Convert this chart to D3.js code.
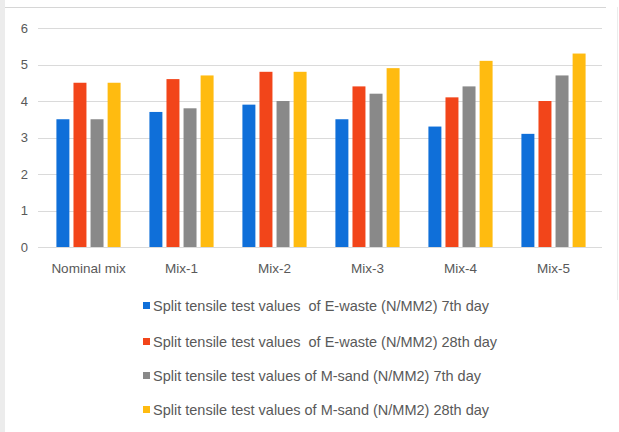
<!DOCTYPE html>
<html>
<head>
<meta charset="utf-8">
<script src="https://cdn.jsdelivr.net/npm/d3@7/dist/d3.min.js"></script>
<style>
  html, body { margin: 0; padding: 0; background: #fff; }
  svg { display: block; }
  text { font-family: "Liberation Sans", Arial, sans-serif; fill: #595959; }
</style>
</head>
<body>
<script>
// Split tensile strength (N/mm2) per mix
const categories = ["Nominal mix", "Mix-1", "Mix-2", "Mix-3", "Mix-4", "Mix-5"];
const seriesNames = [
  "Split tensile test values  of E-waste (N/MM2) 7th day",
  "Split tensile test values  of E-waste (N/MM2) 28th day",
  "Split tensile test values of M-sand (N/MM2) 7th day",
  "Split tensile test values of M-sand (N/MM2) 28th day"
];
const ewaste7  = [3.5, 3.7, 3.9, 3.5, 3.3, 3.1];
const ewaste28 = [4.5, 4.6, 4.8, 4.4, 4.1, 4.0];
const msand7   = [3.5, 3.8, 4.0, 4.2, 4.4, 4.7];
const msand28  = [4.5, 4.7, 4.8, 4.9, 5.1, 5.3];
const yTicks = [0, 1, 2, 3, 4, 5, 6];
const colors = ["#0f6fd9", "#f2451a", "#898989", "#ffbb10"];

const seriesValues = [ewaste7, ewaste28, msand7, msand28];

const W = 619, H = 432;
const svg = d3.select("body").append("svg").attr("width", W).attr("height", H);

// outer frame of the chart area
svg.append("rect").attr("x", 0).attr("y", 0).attr("width", 5).attr("height", H).attr("fill", "#ececec");
svg.append("line").attr("x1", 5).attr("x2", 606).attr("y1", 7.5).attr("y2", 7.5)
  .attr("stroke", "#d6d6d6").attr("stroke-width", 1);
svg.append("line").attr("x1", 617.5).attr("x2", 617.5).attr("y1", 7).attr("y2", 300)
  .attr("stroke", "#ececec").attr("stroke-width", 1);

const plot = { left: 42, right: 600, top: 28, bottom: 247 };

const y = d3.scaleLinear().domain([0, 6]).range([plot.bottom, plot.top]);
const x0 = d3.scaleBand().domain(categories).range([plot.left, plot.right])
  .paddingInner(0.31).paddingOuter(0.155);
const x1 = d3.scaleBand().domain(d3.range(seriesNames.length)).range([0, x0.bandwidth()])
  .paddingInner(0.24);

// horizontal gridlines
svg.append("g").selectAll("line").data(yTicks).join("line")
  .attr("x1", plot.left - 4).attr("x2", plot.right + 2)
  .attr("y1", d => Math.round(y(d)) + 0.5).attr("y2", d => Math.round(y(d)) + 0.5)
  .attr("stroke", "#dadada").attr("stroke-width", 1);

// y axis labels
const yAxis = d3.axisLeft(y).tickValues(yTicks).tickSize(0).tickPadding(0).tickFormat(d3.format("d"));
const gy = svg.append("g").attr("transform", `translate(${plot.left - 14},0)`).call(yAxis);
gy.select(".domain").remove();
gy.selectAll("text").attr("font-size", 13).style("fill", "#595959")
  .style("font-family", "'Liberation Sans', Arial, sans-serif");

// bars
const rows = categories.map((c, i) => ({ cat: c, vals: seriesValues.map(s => s[i]) }));
const groups = svg.append("g").selectAll("g").data(rows).join("g")
  .attr("transform", d => `translate(${x0(d.cat)},0)`);
groups.selectAll("rect").data(d => d.vals.map((v, k) => ({ k, v }))).join("rect")
  .attr("x", d => x1(d.k))
  .attr("width", x1.bandwidth())
  .attr("y", d => y(d.v))
  .attr("height", d => y(0) - y(d.v))
  .attr("fill", d => colors[d.k]);

// category axis labels
const xAxis = d3.axisBottom(x0).tickSize(0).tickPadding(0);
const gx = svg.append("g").attr("transform", `translate(0,${plot.bottom + 16})`).call(xAxis);
gx.select(".domain").remove();
gx.selectAll("text").attr("font-size", 13.5).style("fill", "#595959")
  .style("font-family", "'Liberation Sans', Arial, sans-serif");

// legend
const legendY = [306, 342, 376, 410];
const legend = svg.append("g").selectAll("g").data(seriesNames).join("g")
  .attr("transform", (d, i) => `translate(143,${legendY[i]})`);
legend.append("rect").attr("x", 0).attr("y", -4).attr("width", 7).attr("height", 7)
  .attr("fill", (d, i) => colors[i]);
legend.append("text").attr("x", 10).attr("y", 0).attr("dy", "0.35em")
  .attr("font-size", 14.5).style("white-space", "pre").text(d => d);
</script>
</body>
</html>
